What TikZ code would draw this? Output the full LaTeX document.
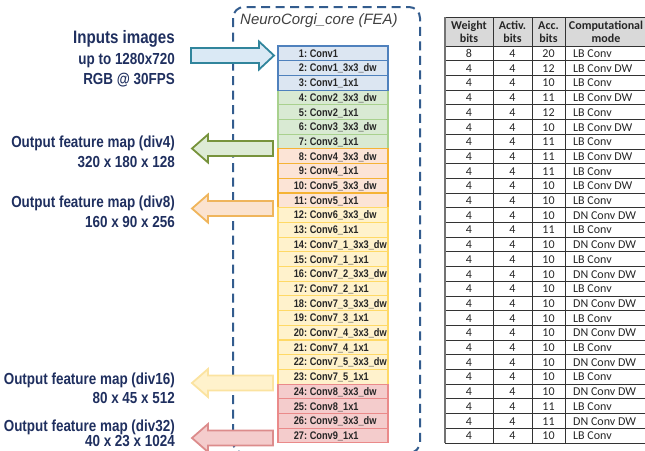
\documentclass[tikz,border=0pt]{standalone}
\usepackage{fontspec}
\setmainfont{Liberation Sans}
\newfontfamily\narrowfont{Liberation Sans}[FakeStretch=0.84]
\newfontfamily\tabfont{Carlito}
\definecolor{navy}{HTML}{1F2F5F}
\definecolor{dashblue}{HTML}{335C8E}
\definecolor{fb}{HTML}{DCE6F2}\definecolor{db}{HTML}{4F81BD}
\definecolor{fg}{HTML}{D9EAD3}\definecolor{dg}{HTML}{A9D18E}
\definecolor{fo}{HTML}{FCE4D6}\definecolor{do}{HTML}{F5B335}
\definecolor{fy}{HTML}{FFF2CC}\definecolor{dy}{HTML}{FFD966}
\definecolor{fr}{HTML}{F4CCCC}\definecolor{dr}{HTML}{EA8A8A}
\definecolor{tabtxt}{HTML}{262626}
\definecolor{hdrfill}{HTML}{D9D9D9}
\definecolor{inarrfill}{HTML}{DAE9F5}
\definecolor{inarrdraw}{HTML}{31859C}
\definecolor{grarrfill}{HTML}{DDEBD5}
\definecolor{grarrdraw}{HTML}{77933C}
\definecolor{orarrfill}{HTML}{FBE3CF}
\definecolor{orarrdraw}{HTML}{EFB55C}
\definecolor{yearrfill}{HTML}{FFF2CC}
\definecolor{yearrdraw}{HTML}{FBE3A0}
\definecolor{rearrfill}{HTML}{F4CCCC}
\definecolor{rearrdraw}{HTML}{DC8C8C}
\newcommand{\blockleft}[3]{%
  \draw[blockarr, fill=#2, draw=#3] (192,#1) -- (208,#1-14) -- (208,#1-7.5) -- (273,#1-7.5)
     -- (273,#1+7.5) -- (208,#1+7.5) -- (208,#1+14) -- cycle;}
\begin{document}
\begin{tikzpicture}[x=1pt,y=-1pt,
  convbox/.style={rectangle, minimum width=110pt, minimum height=14.7pt, inner sep=0pt, line width=1.1pt},
  convtxt/.style={inner sep=0pt, font=\narrowfont\bfseries\fontsize{11}{12}\selectfont, text=black!85},
  lbl/.style={inner sep=0pt, anchor=base east, text=navy, font=\narrowfont\bfseries\fontsize{16}{18}\selectfont},
  blockarr/.style={line width=1.8pt, line join=miter},
  hdr/.style={inner sep=0pt, align=center, text=tabtxt, font=\tabfont\bfseries\fontsize{12}{13.5}\selectfont},
  cell/.style={inner sep=0pt, anchor=base, text=tabtxt, font=\tabfont\fontsize{12}{14}\selectfont},
  gridline/.style={draw=black!80, line width=0.7pt}
]
\useasboundingbox (0,0) rectangle (645,450);
\clip (0,0) rectangle (645,450);

% dashed core box
\draw[dashblue, line width=2pt, dash pattern=on 9pt off 5.5pt, rounded corners=11pt] (233,7) rectangle (420,453);
\node[inner sep=0pt, anchor=base west, text=black!75, font=\itshape\fontsize{15}{17}\selectfont] (title) at (240,24.5) {NeuroCorgi\_core (FEA)};

% conv layers
\foreach \i/\n/\g in {1/Conv1/b,2/Conv1\_3x3\_dw/b,3/Conv1\_1x1/b,4/Conv2\_3x3\_dw/g,5/Conv2\_1x1/g,6/Conv3\_3x3\_dw/g,7/Conv3\_1x1/g,8/Conv4\_3x3\_dw/o,9/Conv4\_1x1/o,10/Conv5\_3x3\_dw/o,11/Conv5\_1x1/o,12/Conv6\_3x3\_dw/y,13/Conv6\_1x1/y,14/Conv7\_1\_3x3\_dw/y,15/Conv7\_1\_1x1/y,16/Conv7\_2\_3x3\_dw/y,17/Conv7\_2\_1x1/y,18/Conv7\_3\_3x3\_dw/y,19/Conv7\_3\_1x1/y,20/Conv7\_4\_3x3\_dw/y,21/Conv7\_4\_1x1/y,22/Conv7\_5\_3x3\_dw/y,23/Conv7\_5\_1x1/y,24/Conv8\_3x3\_dw/r,25/Conv8\_1x1/r,26/Conv9\_3x3\_dw/r,27/Conv9\_1x1/r}
{
  \pgfmathsetmacro\yc{46+14.7*(\i-0.5)}
  \node[convbox, fill=f\g, draw=d\g] (c\i) at (333,\yc) {};
  \node[convtxt, anchor=base west] (ct\i) at (293,\yc+3.9) {\makebox[14pt][r]{\i:} \n};
}
\draw[db, line width=1.5pt] (c1.north west) rectangle (c3.south east);

% arrows
\draw[blockarr, fill=inarrfill, draw=inarrdraw] (191,48) -- (259,48) -- (259,41.5) -- (274,55.5) -- (259,69.5) -- (259,63) -- (191,63) -- cycle;
\blockleft{148.5}{grarrfill}{grarrdraw}
\blockleft{208.5}{orarrfill}{orarrdraw}
\blockleft{383}{yearrfill}{yearrdraw}
\blockleft{438}{rearrfill}{rearrdraw}

% left labels
\node[lbl, font=\narrowfont\bfseries\fontsize{18}{20}\selectfont] (in1) at (175,43.5) {Inputs images};
\node[lbl] (in2) at (175,64.5) {up to 1280x720};
\node[lbl] (in3) at (175,84.5) {RGB @ 30FPS};
\node[lbl] (o4a) at (175,147.5) {Output feature map (div4)};
\node[lbl] (o4b) at (175,167.5) {320 x 180 x 128};
\node[lbl] (o8a) at (175,207.5) {Output feature map (div8)};
\node[lbl] (o8b) at (175,227.5) {160 x 90 x 256};
\node[lbl] (o16a) at (175,384.5) {Output feature map (div16)};
\node[lbl] (o16b) at (175,403.5) {80 x 45 x 512};
\node[lbl] (o32a) at (175,431) {Output feature map (div32)};
\node[lbl] (o32b) at (175,446) {40 x 23 x 1024};

% table
\fill[hdrfill] (445,17) rectangle (650,46);
\foreach \k in {0,...,27} {
  \draw[gridline] (445,46+14.7*\k) -- (650,46+14.7*\k);
}
\draw[gridline] (445,17) -- (650,17);
\foreach \xx in {493,532,565} {
  \draw[gridline] (\xx,17) -- (\xx,46+14.7*27);
}
\draw[black!55, line width=1.6pt] (445,17) -- (445,46+14.7*27);
\node[hdr] (h1) at (469,32) {Weight\\bits};
\node[hdr] (h2) at (512.5,32) {Activ.\\bits};
\node[hdr] (h3) at (548.5,32) {Acc.\\bits};
\node[hdr] (h4) at (606,32) {Computational\\mode};

\foreach \i/\w/\acc/\m in {1/8/20/LB Conv,2/4/12/LB Conv DW,3/4/10/LB Conv,4/4/11/LB Conv DW,5/4/12/LB Conv,6/4/10/LB Conv DW,7/4/11/LB Conv,8/4/11/LB Conv DW,9/4/11/LB Conv,10/4/10/LB Conv DW,11/4/10/LB Conv,12/4/10/DN Conv DW,13/4/11/LB Conv,14/4/10/DN Conv DW,15/4/10/LB Conv,16/4/10/DN Conv DW,17/4/10/LB Conv,18/4/10/DN Conv DW,19/4/10/LB Conv,20/4/10/DN Conv DW,21/4/10/LB Conv,22/4/10/DN Conv DW,23/4/10/LB Conv,24/4/10/DN Conv DW,25/4/11/LB Conv,26/4/11/DN Conv DW,27/4/10/LB Conv}
{
  \pgfmathsetmacro\yb{46+14.7*(\i-0.5)+4.2}
  \node[cell] (tw\i) at (469,\yb) {\w};
  \node[cell] (ta\i) at (512.5,\yb) {4};
  \node[cell] (tc\i) at (548.5,\yb) {\acc};
  \node[cell, anchor=base west] (tm\i) at (573,\yb) {\m};
}
\end{tikzpicture}
\end{document}
